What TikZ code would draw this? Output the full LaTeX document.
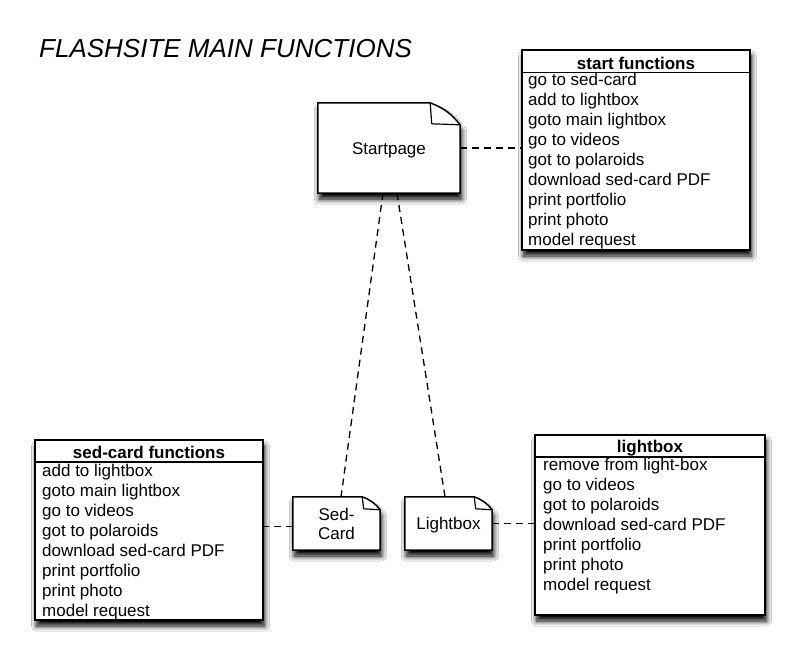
\documentclass[tikz,border=0pt]{standalone}
\usepackage{fontspec}
\setmainfont{Liberation Sans}
\usetikzlibrary{shadows.blur,backgrounds,calc}
\newcommand\docshape[3]{%
  \path[docpath] (#1.north west) -- ([xshift=-#2pt]#1.north east) to[bend left=15] ([yshift=-#3pt]#1.north east) -- (#1.south east) -- (#1.south west) -- cycle;
  \draw[line width=1.2pt,line join=round] ([xshift=-#2pt]#1.north east) -- ++(1.5pt,-#3pt+1pt) -- ([yshift=-#3pt]#1.north east);}
\begin{document}
\begin{tikzpicture}[x=1pt,y=-1pt,
  every node/.style={font=\fontsize{17}{20}\selectfont},
  shad/.style={blur shadow={shadow xshift=1.5pt,shadow yshift=-6pt,shadow blur radius=5pt,shadow opacity=100,shadow blur steps=12}},
  fnbox/.style={draw=black,line width=1.5pt,fill=white,shad,inner sep=0pt},
  docnode/.style={inner sep=0pt,align=center,text height=12.5pt,text depth=0pt},
  docpath/.style={draw=black,line width=1.5pt,fill=white,line join=miter,shad},
  conn/.style={draw=black,line width=1.3pt,dash pattern=on 7pt off 5pt},
  item/.style={anchor=base west,inner sep=0pt},
  head/.style={anchor=base,inner sep=0pt,font=\fontsize{17}{20}\selectfont\bfseries},
  title/.style={anchor=base west,inner sep=0pt,font=\fontsize{26}{30}\selectfont\itshape}]
\useasboundingbox (0,0) rectangle (800,664);

\node[title] (title) at (39,57) {FLASHSITE MAIN FUNCTIONS};

% start functions
\node[fnbox,minimum width=228pt,minimum height=200pt] (startfn) at (636,150) {};
\draw[line width=1.2pt] (522,72.5) -- (750,72.5);
\node[head] (starth) at (636,69) {start functions};
\foreach \t [count=\i] in {go to sed-card,add to lightbox,goto main lightbox,go to videos,got to polaroids,download sed-card PDF,print portfolio,print photo,model request}
  \node[item] (s\i) at (528,65.5+20*\i) {\t};

% sed-card functions
\node[fnbox,minimum width=228pt,minimum height=180pt] (sedfn) at (149,530) {};
\draw[line width=1.2pt] (35,462) -- (263,462);
\node[head] (sedh) at (149,458) {sed-card functions};
\foreach \t [count=\i] in {add to lightbox,goto main lightbox,go to videos,got to polaroids,download sed-card PDF,print portfolio,print photo,model request}
  \node[item] (c\i) at (42,456+20*\i) {\t};

% lightbox functions
\node[fnbox,minimum width=230pt,minimum height=180pt] (lightfn) at (650,525) {};
\draw[line width=1.2pt] (535,457) -- (765,457);
\node[head] (lighth) at (650,452) {lightbox};
\foreach \t [count=\i] in {remove from light-box,go to videos,got to polaroids,download sed-card PDF,print portfolio,print photo,model request}
  \node[item] (l\i) at (543,450+20*\i) {\t};

% document nodes
\node[docnode,minimum width=142pt,minimum height=90pt] (sp) at (389,148) {Startpage};
\node[docnode,minimum width=87pt,minimum height=53pt,text height=31.5pt,font=\fontsize{17}{19}\selectfont] (sed) at (336.5,523.5) {Sed-\\Card};
\node[docnode,minimum width=87pt,minimum height=53pt] (lb) at (448.5,523.5) {Lightbox};

\begin{scope}[on background layer]
  \fill[white] (0,0) rectangle (800,664);
  \docshape{sp}{30}{22}
  \docshape{sed}{18}{13}
  \docshape{lb}{18}{13}
\end{scope}

% connectors
\draw[conn] (sp.east) -- (sp.east -| startfn.west);
\draw[conn] ([xshift=-6pt]sp.south) -- ([xshift=4.5pt]sed.north);
\draw[conn] ([xshift=8pt]sp.south) -- ([xshift=-3.5pt]lb.north);
\coordinate (sl) at ([yshift=-3pt]sed.west);
\draw[conn] (sl) -- (sl -| sedfn.east);
\draw[conn] (lb.east) -- (lb.east -| lightfn.west);
\end{tikzpicture}
\end{document}
